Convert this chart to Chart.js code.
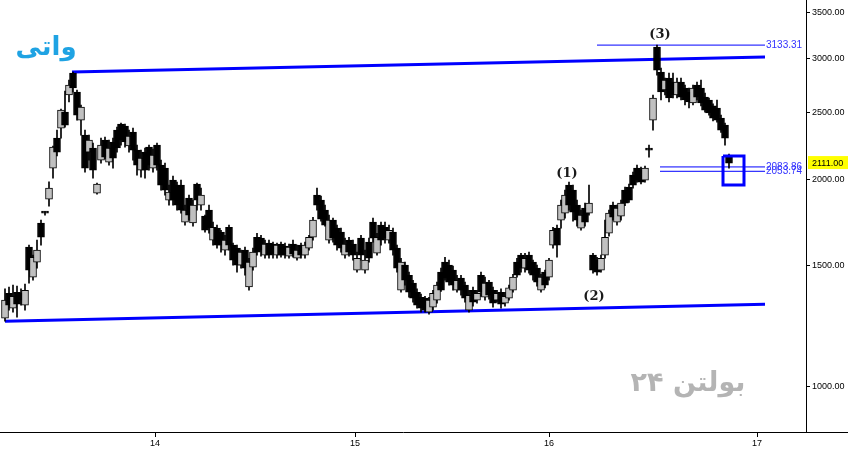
<!DOCTYPE html>
<html>
<head>
<meta charset="utf-8">
<script src="https://cdn.jsdelivr.net/npm/chart.js@4.4.0/dist/chart.umd.min.js"></script>
<style>
  html, body { margin: 0; padding: 0; background: #fff; }
  #wrap { width: 848px; height: 455px; position: relative; }
</style>
</head>
<body>
<div id="wrap"><canvas id="myChart"></canvas></div>
<script>
// daily candles (index = trading day slot)
var opens = [1256,1365,1299,1370,1365,1312,1593,1441,1515,1727,
  1785,1871,2076,2295,2373,2504,2651,2853,2678,2438,
  2318,2190,2220,1908,2132,2280,2118,2265,2357,2405,
  2389,2235,2341,2205,2062,2190,2227,2076,2242,2097,
  2076,1865,1994,1961,1961,1732,1877,1727,1968,1834,
  1767,1803,1631,1698,1675,1577,1703,1604,1588,1500,
  1577,1394,1490,1647,1642,1551,1615,1610,1551,1610,
  1599,1546,1610,1535,1604,1551,1588,1647,1896,1865,
  1803,1631,1744,1698,1675,1551,1631,1610,1475,1642,
  1475,1620,1732,1561,1715,1703,1631,1675,1588,1379,
  1500,1450,1412,1370,1347,1343,1282,1303,1334,1465,
  1515,1500,1475,1379,1436,1403,1290,1379,1334,1450,
  1347,1417,1379,1334,1370,1321,1343,1379,1515,1551,
  1485,1551,1515,1485,1379,1465,1441,1604,1698,1744,
  1785,1961,1928,1834,1698,1815,1785,1551,1525,1475,
  1551,1669,1834,1732,1767,1928,1948,2028,2076,2062,
  1994,2205,2438,3113,2863,2696,2806,2768,2651,2768,
  2714,2678,2581,2741,2714,2633,2607,2556,2538,2454,
  2397,2153];
var highs = [1386,1394,1403,1398,1386,1408,1604,1551,1631,1744,
  1795,1982,2235,2357,2529,2687,2787,2863,2696,2564,
  2357,2318,2257,1974,2295,2303,2280,2295,2381,2413,
  2405,2357,2373,2242,2205,2220,2242,2212,2257,2132,
  2111,1961,2021,1981,1994,1834,1896,1865,1974,1941,
  1773,1834,1732,1715,1686,1658,1715,1615,1604,1577,
  1593,1535,1588,1669,1658,1631,1631,1620,1615,1620,
  1615,1610,1631,1604,1615,1620,1658,1761,1941,1890,
  1834,1773,1756,1715,1698,1642,1647,1631,1567,1658,
  1577,1642,1756,1669,1732,1732,1715,1698,1604,1535,
  1515,1465,1426,1386,1361,1351,1347,1379,1417,1485,
  1540,1525,1495,1450,1450,1417,1379,1394,1379,1465,
  1441,1426,1394,1379,1386,1370,1403,1455,1535,1561,
  1561,1567,1525,1500,1455,1475,1535,1703,1715,1865,
  1928,1981,1961,1865,1803,1846,1961,1561,1540,1551,
  1744,1803,1852,1834,1865,1948,1968,2048,2097,2083,
  2090,2242,2651,3133.31,2902,2806,2853,2853,2806,2806,
  2741,2714,2741,2768,2787,2669,2625,2573,2607,2479,
  2413,2175];
var lows = [1243,1290,1282,1260,1312,1290,1412,1426,1485,1604,
  1773,1828,2007,2162,2295,2381,2590,2678,2438,2318,
  2048,2132,2007,1902,2111,2140,2097,2076,2190,2242,
  2227,2190,2132,2028,2014,2007,2062,2048,2062,1928,
  1896,1834,1834,1803,1785,1715,1744,1709,1803,1803,
  1675,1669,1604,1588,1567,1551,1577,1500,1465,1485,
  1450,1379,1475,1551,1546,1535,1535,1535,1535,1541,
  1535,1535,1541,1525,1535,1535,1577,1631,1803,1738,
  1709,1615,1620,1577,1567,1535,1546,1525,1465,1525,
  1460,1515,1620,1551,1604,1615,1615,1551,1465,1370,
  1403,1347,1325,1299,1282,1282,1273,1290,1321,1374,
  1426,1403,1379,1370,1356,1325,1282,1308,1321,1351,
  1334,1338,1303,1325,1299,1308,1334,1370,1441,1465,
  1465,1460,1426,1398,1370,1390,1426,1588,1540,1698,
  1756,1803,1738,1709,1686,1709,1773,1460,1450,1465,
  1535,1653,1744,1715,1744,1830,1850,1941,1981,1968,
  1981,2153,2357,2834,2607,2651,2590,2625,2625,2607,
  2564,2538,2564,2607,2556,2504,2479,2430,2420,2340,
  2242,2076];
var closes = [1334,1312,1351,1316,1334,1379,1475,1540,1577,1647,
  1785,1941,2227,2190,2521,2397,2741,2714,2479,2547,
  2076,2280,2062,1968,2242,2153,2220,2146,2220,2280,
  2265,2310,2205,2097,2146,2062,2097,2168,2097,1961,
  1928,1915,1865,1834,1803,1803,1773,1834,1865,1896,
  1686,1698,1703,1604,1604,1631,1604,1525,1500,1567,
  1485,1515,1567,1567,1577,1610,1551,1556,1604,1551,
  1551,1593,1556,1577,1551,1604,1647,1744,1834,1750,
  1715,1744,1642,1604,1588,1610,1567,1551,1535,1551,
  1525,1535,1642,1647,1631,1642,1686,1577,1485,1515,
  1426,1370,1343,1312,1299,1290,1334,1365,1403,1379,
  1436,1417,1403,1426,1379,1343,1356,1325,1365,1370,
  1412,1356,1321,1365,1316,1351,1390,1441,1450,1485,
  1535,1475,1450,1417,1441,1403,1525,1686,1604,1834,
  1896,1834,1791,1744,1773,1732,1846,1475,1465,1535,
  1647,1785,1761,1815,1846,1846,1865,1961,1994,1981,
  2076,2205,2625,2882,2678,2787,2625,2651,2768,2633,
  2607,2590,2714,2633,2581,2521,2496,2454,2438,2357,
  2295,2111];

// year boundaries on the candle index axis
var yearTickPos = [37.5, 87.5, 136, 188];
var yearLabels = ['14', '15', '16', '17'];
var priceTicks = [1000, 1500, 2000, 2500, 3000, 3500];

// drawings on the chart
var upperTrend = [{x: 16.75, y: 2863}, {x: 190, y: 3011}];
var lowerTrend = [{x: 0, y: 1243}, {x: 190, y: 1316}];
var levels = [3133.31, 2083.86, 2053.74];
var levelStart = [148, 163.75, 163.75];
var levelEnd = 190;
var waveLabels = ['(1)', '(2)', '(3)'];
var waveX = [140.5, 147.25, 163.75];
var waveY = [2041, 1352, 3240];
var boxX = [179.5, 184.75];
var boxY = [1961, 2161];
var lastPrice = 2111;

var wicks = [], bodies = [], bodyColors = [];
for (var i = 0; i < closes.length; i++) {
  wicks.push({x: i, y: [lows[i], highs[i]]});
  bodies.push({x: i, y: [opens[i], closes[i]]});
  bodyColors.push(closes[i] > opens[i] ? '#c0c0c0' : '#000000');
}

var lineSets = [
  {type: 'line', data: upperTrend, borderColor: '#0000ff', borderWidth: 3, pointRadius: 0, order: 5},
  {type: 'line', data: lowerTrend, borderColor: '#0000ff', borderWidth: 3, pointRadius: 0, order: 5}
];
levels.forEach(function (v, k) {
  lineSets.push({type: 'line', data: [{x: levelStart[k], y: v}, {x: levelEnd, y: v}],
    borderColor: '#0000ff', borderWidth: 1, pointRadius: 0, order: 5});
});
lineSets.push({type: 'line', borderColor: '#0000ff', borderWidth: 3, pointRadius: 0, order: -1,
  data: [{x: boxX[0], y: boxY[1]}, {x: boxX[1], y: boxY[1]}, {x: boxX[1], y: boxY[0]},
         {x: boxX[0], y: boxY[0]}, {x: boxX[0], y: boxY[1]}]});

var extras = {
  id: 'extras',
  beforeDatasetsDraw: function (chart) {
    var c = chart.ctx;
    c.save();
    c.direction = 'rtl';
    c.textAlign = 'center';
    c.textBaseline = 'middle';
    c.fillStyle = '#1fa3e3';
    c.font = 'bold 26px "DejaVu Sans"';
    c.fillText('واتی', 46, 48);
    c.fillStyle = '#b4b4b4';
    c.font = 'bold 27px "DejaVu Sans"';
    c.fillText('بولتن ۲۴', 688, 384);
    c.restore();
  },
  afterDatasetsDraw: function (chart) {
    var c = chart.ctx, xs = chart.scales.x, ys = chart.scales.y;
    c.save();
    c.textBaseline = 'middle';
    c.textAlign = 'left';
    c.font = '10px "Liberation Sans"';
    c.fillStyle = '#3333ff';
    levels.forEach(function (v) {
      c.fillText(v.toFixed(2), xs.getPixelForValue(levelEnd) + 1, ys.getPixelForValue(v));
    });
    c.textAlign = 'center';
    c.fillStyle = '#1a1a1a';
    c.font = 'bold 13px "DejaVu Serif"';
    waveLabels.forEach(function (t, k) {
      c.fillText(t, xs.getPixelForValue(waveX[k]), ys.getPixelForValue(waveY[k]));
    });
    var py = ys.getPixelForValue(lastPrice);
    c.fillStyle = '#ffff00';
    c.fillRect(ys.left + 2, py - 7, chart.width - ys.left - 2, 13);
    c.fillStyle = '#000';
    c.textAlign = 'left';
    c.font = '9px "Liberation Sans"';
    c.fillText(lastPrice.toFixed(2), ys.left + 6, py);
    c.restore();
  },
  afterDraw: function (chart) {
    var c = chart.ctx, xs = chart.scales.x;
    c.save();
    c.strokeStyle = '#000';
    c.lineWidth = 1;
    c.beginPath();
    c.moveTo(chart.chartArea.right, Math.round(xs.top) + 0.5);
    c.lineTo(chart.width, Math.round(xs.top) + 0.5);
    c.stroke();
    c.restore();
  }
};

Chart.defaults.font.family = '"Liberation Sans", Arial, sans-serif';
Chart.defaults.font.size = 9;
Chart.defaults.color = '#000';

var ctx = document.getElementById('myChart');
var myChart = new Chart(ctx, {
  type: 'bar',
  data: {
    datasets: [
      {label: 'wick', data: wicks, backgroundColor: '#000', barThickness: 1, order: 2},
      {label: 'body', data: bodies, backgroundColor: bodyColors, borderColor: '#000',
       borderWidth: 1, borderSkipped: false, barThickness: 7, minBarLength: 2, order: 1}
    ].concat(lineSets)
  },
  options: {
    responsive: true,
    maintainAspectRatio: false,
    animation: false,
    layout: {padding: 0},
    datasets: {bar: {grouped: false}},
    plugins: {legend: {display: false}, tooltip: {enabled: false}},
    scales: {
      x: {
        type: 'linear',
        min: -1.25,
        max: 200.25,
        offset: false,
        afterBuildTicks: function (s) {
          s.ticks = yearTickPos.map(function (v) { return {value: v}; });
        },
        afterFit: function (s) { s.height = 23; s.paddingLeft = 0; s.paddingRight = 0; },
        ticks: {
          autoSkip: false, maxRotation: 0, padding: 1,
          callback: function (v, idx) { return yearLabels[idx]; }
        },
        grid: {offset: false, drawOnChartArea: false, tickLength: 5, color: '#000'},
        border: {color: '#000'}
      },
      y: {
        type: 'logarithmic',
        position: 'right',
        min: 858,
        max: 3644,
        afterBuildTicks: function (s) {
          s.ticks = priceTicks.map(function (v) { return {value: v}; });
        },
        afterFit: function (s) { s.width = 42; s.paddingTop = 0; s.paddingBottom = 0; },
        ticks: {
          autoSkip: false, padding: 2,
          callback: function (v) { return Number(v).toFixed(2); }
        },
        grid: {drawOnChartArea: false, tickLength: 4, color: '#000'},
        border: {color: '#000'}
      }
    }
  },
  plugins: [extras]
});
</script>
</body>
</html>
